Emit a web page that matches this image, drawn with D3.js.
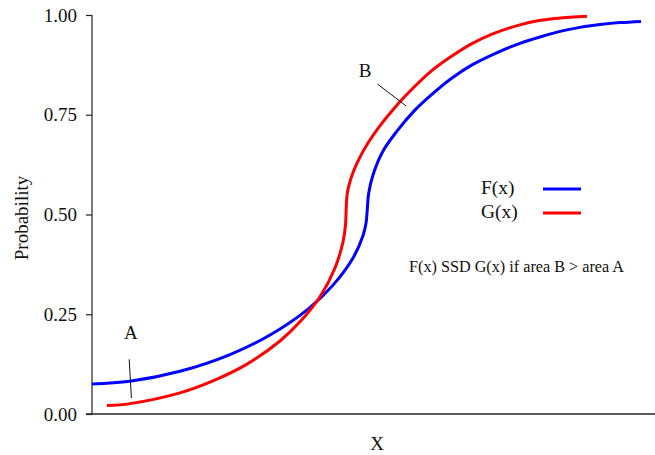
<!DOCTYPE html>
<html>
<head>
<meta charset="utf-8">
<script src="https://cdn.jsdelivr.net/npm/d3@7"></script>
<style>
  html, body { margin: 0; padding: 0; background: #fff; }
  svg { display: block; }
  text { font-family: "Liberation Serif", "Times New Roman", serif; fill: #111; }
</style>
</head>
<body>
<svg id="chart" width="655" height="455"></svg>
<script>
// Data (x in arbitrary units 0..100, y = cumulative probability)
const fX = [0.00, 6.75, 15.63, 24.51, 31.62, 38.37, 42.81, 46.36, 48.13, 48.67, 48.85, 49.15, 49.91, 51.69, 54.17, 57.19, 60.21, 63.94, 67.50, 72.47, 76.02, 79.57, 83.13, 86.68, 90.23, 93.78, 97.51];
const fY = [0.075, 0.082, 0.107, 0.149, 0.198, 0.263, 0.323, 0.391, 0.447, 0.478, 0.504, 0.554, 0.599, 0.659, 0.709, 0.759, 0.799, 0.842, 0.875, 0.909, 0.929, 0.945, 0.959, 0.969, 0.976, 0.981, 0.984];
const gX = [2.66, 6.75, 15.63, 21.49, 27.53, 33.39, 36.94, 40.50, 43.16, 44.58, 45.03, 45.12, 45.35, 46.00, 47.07, 49.02, 51.51, 54.17, 55.77, 60.04, 63.59, 67.32, 71.05, 75.67, 79.40, 82.77, 87.92];
const gY = [0.021, 0.026, 0.053, 0.083, 0.125, 0.183, 0.231, 0.294, 0.366, 0.431, 0.474, 0.504, 0.554, 0.591, 0.629, 0.679, 0.729, 0.774, 0.799, 0.857, 0.894, 0.927, 0.952, 0.974, 0.986, 0.992, 0.997];
const yTicks = [0, 0.25, 0.5, 0.75, 1.0];
const seriesNames = ["F(x)", "G(x)"];
const seriesColors = ["#0000ff", "#ff0000"];
const note = "F(x) SSD G(x) if area B > area A";
const xLabel = "X";
const yLabel = "Probability";
// annotation markers: label, segment endpoints in data units
const annA = { label: "A", lx: 6.9, ly: 0.188, seg: [[6.6, 0.137], [7.0, 0.040]] };
const annB = { label: "B", lx: 48.5, ly: 0.844, seg: [[50.7, 0.827], [55.8, 0.772]] };

const svg = d3.select("#chart");
const x = d3.scaleLinear().domain([0, 100]).range([92, 655]);
const y = d3.scaleLinear().domain([0, 1]).range([414, 15]);

// Y axis
const yAxis = d3.axisLeft(y).tickValues(yTicks).tickFormat(d3.format(".2f")).tickSize(6).tickPadding(9);
const gy = svg.append("g").attr("transform", "translate(92,0)").call(yAxis);
gy.select(".domain").attr("d", "M0," + y(1) + "V" + (y(0) + 0.5)).attr("stroke", "#222").attr("stroke-width", 1.2);
gy.selectAll(".tick line").attr("stroke", "#222").attr("stroke-width", 1.2);
gy.selectAll(".tick text").style("font-family", "'Liberation Serif', serif").style("font-size", "19px").attr("fill", "#111");

// X axis (no ticks)
svg.append("line").attr("x1", 86).attr("x2", 655).attr("y1", y(0)).attr("y2", y(0))
  .attr("stroke", "#222").attr("stroke-width", 1.4);

// Axis titles
svg.append("text").attr("x", 377).attr("y", 450).attr("text-anchor", "middle").style("font-size", "19px").text(xLabel);
svg.append("text").attr("transform", "translate(28,218) rotate(-90)").attr("text-anchor", "middle").style("font-size", "19px").text(yLabel);

// Curves
const line = d3.line().x(d => x(d[0])).y(d => y(d[1])).curve(d3.curveCatmullRom.alpha(0.5));
const fData = fX.map((v, i) => [v, fY[i]]);
const gData = gX.map((v, i) => [v, gY[i]]);
[fData, gData].forEach((dat, i) => {
  svg.append("path").datum(dat).attr("d", line).attr("fill", "none")
    .attr("stroke", seriesColors[i]).attr("stroke-width", 3).attr("stroke-linecap", "butt");
});

// Annotation segments
[annA, annB].forEach(a => {
  svg.append("line").attr("x1", x(a.seg[0][0])).attr("y1", y(a.seg[0][1]))
    .attr("x2", x(a.seg[1][0])).attr("y2", y(a.seg[1][1])).attr("stroke", "#111").attr("stroke-width", 1);
  svg.append("text").attr("x", x(a.lx)).attr("y", y(a.ly)).attr("text-anchor", "middle").style("font-size", "19px").text(a.label);
});

// Legend
seriesNames.forEach((n, i) => {
  const yy = 189 + i * 24;
  svg.append("text").attr("x", 481).attr("y", yy + 5).style("font-size", "19.5px").text(n);
  svg.append("line").attr("x1", 543).attr("x2", 581).attr("y1", yy).attr("y2", yy)
    .attr("stroke", seriesColors[i]).attr("stroke-width", 3);
});

// Note
svg.append("text").attr("x", 409).attr("y", 272).style("font-size", "16.2px").text(note);
</script>
</body>
</html>
